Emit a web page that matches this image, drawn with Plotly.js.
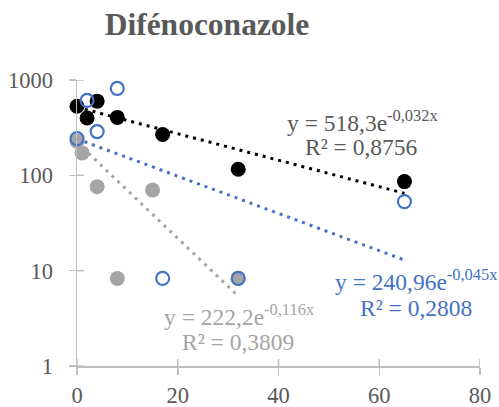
<!DOCTYPE html>
<html>
<head>
<meta charset="utf-8">
<script src="https://cdn.plot.ly/plotly-3.0.1.min.js"></script>
<style>html,body{margin:0;padding:0;background:#fff;}#chart{width:499px;height:407px;}</style>
</head>
<body>
<div id="chart"></div>
<script>
// Data
const blackX = [0, 2, 4, 8, 17, 32, 65];
const blackY = [530, 400, 600, 405, 268, 116, 86];
const blueX = [0, 2, 4, 8, 17, 32, 65];
const blueY = [243, 610, 288, 815, 8.3, 8.3, 53];
const grayX = [0, 1, 4, 8, 15, 32];
const grayY = [228, 172, 76, 8.3, 70, 8.3];

// Trendline coefficients shown on the chart (y = a·e^(b·x))
const blackFit = [518.3, -0.032];
const blueFit = [240.96, -0.045];
const grayFit = [222.2, -0.116];
const blackFitRange = [0, 65];
const blueFitRange = [0, 65];
const grayFitRange = [0, 32];

const xTicks = [0, 20, 40, 60, 80];
const yTicks = [1, 10, 100, 1000];

const cBlack = '#000000', cBlue = '#4472C4', cGray = '#A5A5A5', cText = '#595959', cAxis = '#BFBFBF';
const serif = 'Liberation Serif';

function fitLine(fit, range, color) {
  return {
    x: range,
    y: range.map(v => fit[0] * Math.exp(fit[1] * v)),
    mode: 'lines', type: 'scatter', hoverinfo: 'skip',
    line: {color: color, width: 3, dash: '3px,5px'},
    showlegend: false
  };
}

const traces = [
  fitLine(grayFit, grayFitRange, cGray),
  fitLine(blueFit, blueFitRange, cBlue),
  fitLine(blackFit, blackFitRange, cBlack),
  {x: grayX, y: grayY, mode: 'markers', type: 'scatter', showlegend: false, cliponaxis: false,
   marker: {color: cGray, size: 15, line: {width: 0}}},
  {x: blackX, y: blackY, mode: 'markers', type: 'scatter', showlegend: false, cliponaxis: false,
   marker: {color: cBlack, size: 15, line: {width: 0}}},
  {x: blueX, y: blueY, mode: 'markers', type: 'scatter', showlegend: false, cliponaxis: false,
   marker: {color: 'rgba(255,255,255,0)', size: 13, symbol: 'circle', line: {color: cBlue, width: 2.2}}}
];

// inner halves of the crossing tick marks
const tickShapes = [
  ...yTicks.map(v => ({type: 'line', xref: 'paper', yref: 'y', x0: 0, x1: 7 / 403, y0: v, y1: v,
                       line: {color: cAxis, width: 1.5}, layer: 'below'})),
  ...xTicks.map(v => ({type: 'line', xref: 'x', yref: 'paper', x0: v, x1: v, y0: 0, y1: 7 / 286,
                       line: {color: cAxis, width: 1.5}, layer: 'below'}))
];

const annFont = (c) => ({family: serif, size: 23.5, color: c});
const px = (v) => (v - 77) / 403;
const py = (v) => (366 - v) / 286;
const layout = {
  width: 499, height: 407,
  margin: {l: 77, r: 19, t: 80, b: 41},
  paper_bgcolor: '#fff', plot_bgcolor: '#fff',
  font: {family: serif, color: cText},
  title: {text: '<b>Difénoconazole</b>', font: {family: serif, size: 31.5, color: cText},
          x: 207 / 499, xanchor: 'center', xref: 'container', yref: 'container', y: 1 - 24 / 407, yanchor: 'middle'},
  xaxis: {range: [0, 80], tickvals: xTicks, ticktext: xTicks.map(String),
          showgrid: false, zeroline: false, showline: true, linecolor: cAxis, linewidth: 1.5,
          ticks: 'outside', ticklen: 7, tickcolor: cAxis, tickwidth: 1.5, ticklabelstandoff: 1,
          tickfont: {family: serif, size: 22.5, color: cText}},
  yaxis: {type: 'log', range: [0, 3], tickvals: yTicks, ticktext: yTicks.map(String),
          showgrid: false, zeroline: false, showline: true, linecolor: cAxis, linewidth: 1.5,
          ticks: 'outside', ticklen: 7, tickcolor: cAxis, tickwidth: 1.5, ticklabelstandoff: 11,
          tickfont: {family: serif, size: 22.5, color: cText}},
  shapes: tickShapes,
  annotations: [
    {xref: 'paper', yref: 'paper', x: px(363), y: py(121), showarrow: false,
     text: 'y = 518,3e<sup>-0,032x</sup>', font: annFont(cText), xanchor: 'center', yanchor: 'middle'},
    {xref: 'paper', yref: 'paper', x: px(361), y: py(147), showarrow: false,
     text: 'R² = 0,8756', font: annFont(cText), xanchor: 'center', yanchor: 'middle'},
    {xref: 'paper', yref: 'paper', x: px(416), y: py(280), showarrow: false,
     text: 'y = 240,96e<sup>-0,045x</sup>', font: annFont(cBlue), xanchor: 'center', yanchor: 'middle'},
    {xref: 'paper', yref: 'paper', x: px(416), y: py(308), showarrow: false,
     text: 'R² = 0,2808', font: annFont(cBlue), xanchor: 'center', yanchor: 'middle'},
    {xref: 'paper', yref: 'paper', x: px(239), y: py(315), showarrow: false,
     text: 'y = 222,2e<sup>-0,116x</sup>', font: annFont(cGray), xanchor: 'center', yanchor: 'middle'},
    {xref: 'paper', yref: 'paper', x: px(238), y: py(342), showarrow: false,
     text: 'R² = 0,3809', font: annFont(cGray), xanchor: 'center', yanchor: 'middle'}
  ]
};

Plotly.newPlot('chart', traces, layout, {displayModeBar: false, staticPlot: true});
</script>
</body>
</html>
